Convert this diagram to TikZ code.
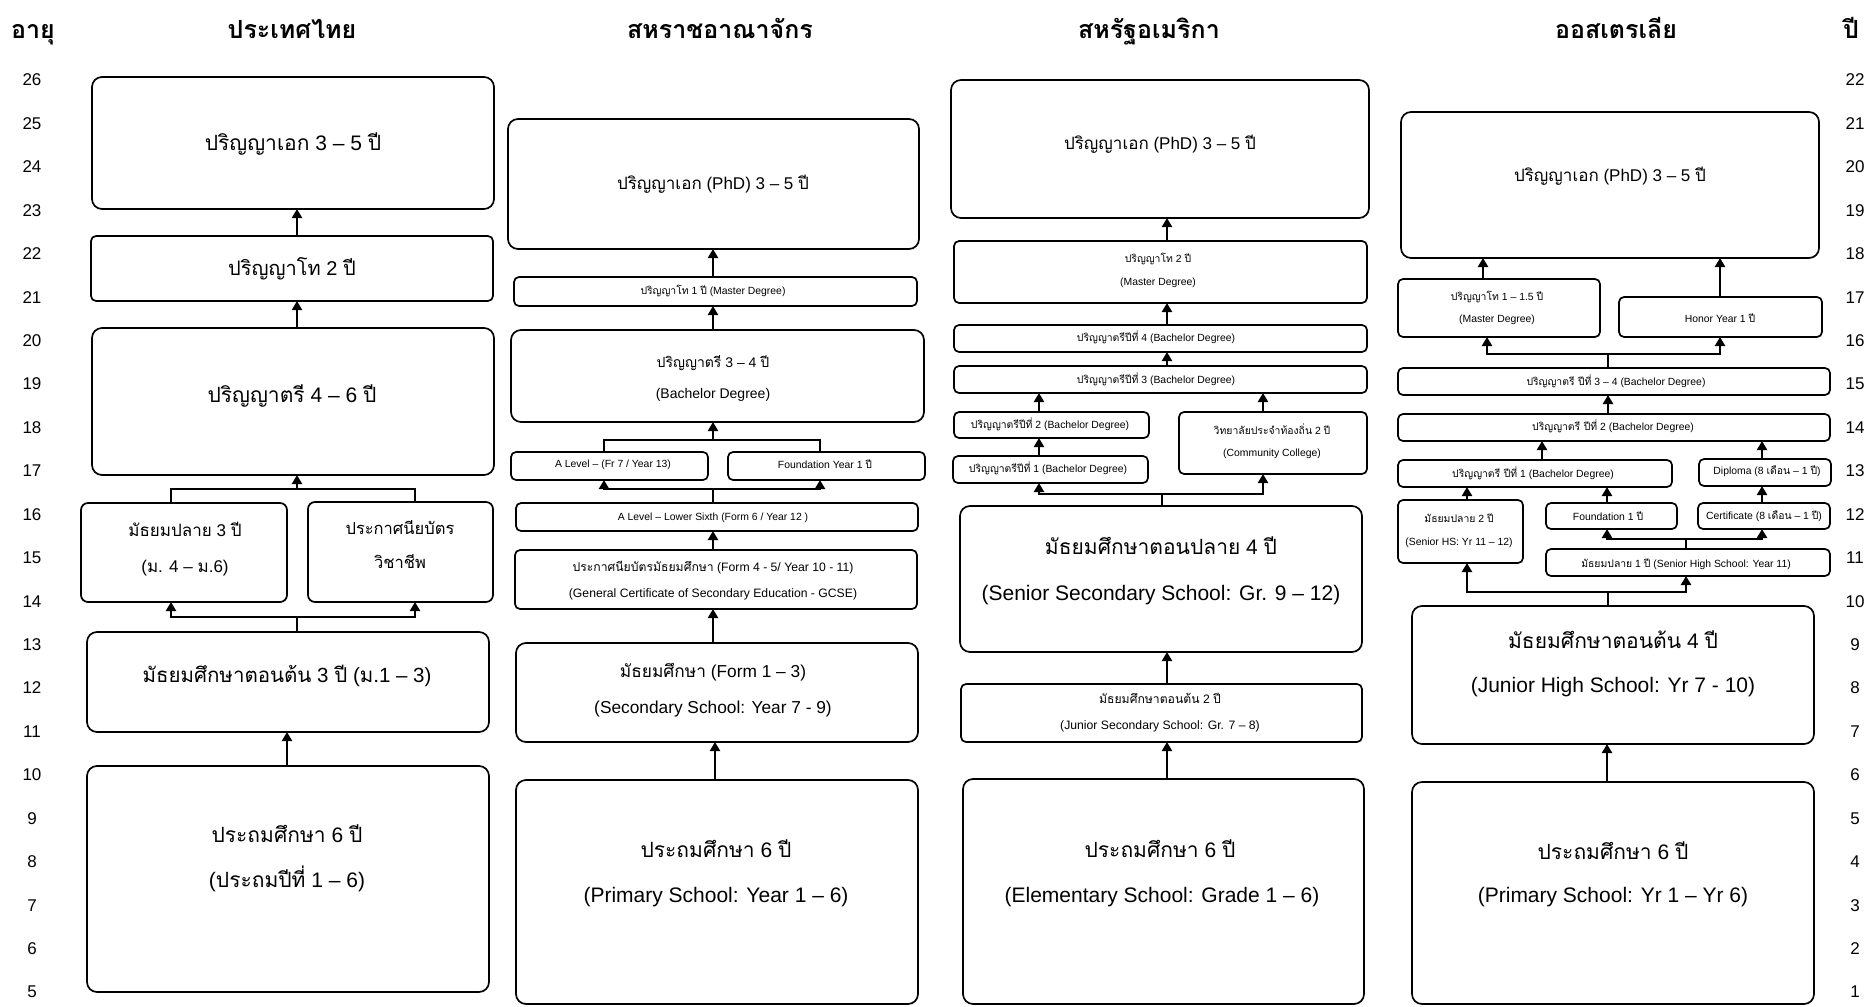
\documentclass[tikz,border=0pt]{standalone}
\usepackage{fontspec}
\setmainfont{Liberation Sans}
\newfontfamily\thaifont[Script=Thai]{Loma}
\usetikzlibrary{arrows.meta,fit}
\newcommand\thx[1]{{\thaifont #1}}
\tikzset{
 box/.style={draw, line width=1.7pt, rounded corners=5pt, inner sep=0pt, outer sep=0pt},
 big/.style={rounded corners=10pt},
 txt/.style={anchor=base, inner sep=0pt, outer sep=0pt},
 ln/.style={line width=2pt},
 arr/.style={line width=2.2pt, -{Triangle[width=10pt,length=9pt]}},
 hd/.style={anchor=base, inner sep=0pt, font=\fontsize{25pt}{25pt}\selectfont\bfseries},
 age/.style={inner sep=0pt, font=\fontsize{17pt}{17pt}\selectfont}
}
\newcommand\bx[6][]{\node[box,#1,fit={(#3,#4) (#5,#6)}] (#2) {};}
\newcommand\tx[5]{\node[txt,font=\fontsize{#1pt}{#1pt}\selectfont] (#2) at (#3,{#4+0.358*#1}) {#5};}
\begin{document}
\begin{tikzpicture}[x=1pt,y=-1pt]
\useasboundingbox (0,0) rectangle (1867,1006);
% headers
\node[hd] (hAge) at (33,39) {\thx{อายุ}};
\node[hd] (hTH) at (292,39) {\thx{ประเทศไทย}};
\node[hd] (hUK) at (720,39) {\thx{สหราชอาณาจักร}};
\node[hd] (hUS) at (1149,39) {\thx{สหรัฐอเมริกา}};
\node[hd] (hAU) at (1616,39) {\thx{ออสเตรเลีย}};
\node[hd] (hYr) at (1851,39) {\thx{ปี}};
% age scales
\foreach \a in {5,...,26} \node[age] (L\a) at (32,{80+(26-\a)*43.43}) {\a};
\foreach \a in {1,...,22} \node[age] (R\a) at (1855,{80+(22-\a)*43.43}) {\a};

% ===== Thailand =====
\bx[big]{thPhD}{92}{77}{494}{209}
\bx{thMa}{91}{236}{493}{301}
\bx[big]{thBa}{92}{328}{494}{475}
\bx[rounded corners=7pt]{thUS}{81}{503}{287}{602}
\bx[rounded corners=7pt]{thVo}{308}{502}{493}{602}
\bx[big]{thLS}{87}{632}{489}{732}
\bx[big]{thPr}{87}{766}{489}{992}
\tx{21}{thPhDt}{293}{143}{\thx{ปริญญาเอก} 3 – 5 \thx{ปี}}
\tx{20}{thMat}{292}{268}{\thx{ปริญญาโท} 2 \thx{ปี}}
\tx{21}{thBat}{292}{395}{\thx{ปริญญาตรี} 4 – 6 \thx{ปี}}
\tx{17}{thUSa}{185}{530}{\thx{มัธยมปลาย} 3 \thx{ปี}}
\tx{17}{thUSb}{185}{566}{(\thx{ม.} 4 – \thx{ม.}6)}
\tx{16.5}{thVoa}{400}{529}{\thx{ประกาศนียบัตร}}
\tx{16.5}{thVob}{400}{563}{\thx{วิชาชีพ}}
\tx{20.5}{thLSt}{287}{675}{\thx{มัธยมศึกษาตอนต้น} 3 \thx{ปี} (\thx{ม.}1 – 3)}
\tx{21}{thPra}{287}{835}{\thx{ประถมศึกษา} 6 \thx{ปี}}
\tx{21}{thPrb}{287}{880}{(\thx{ประถมปีที่} 1 – 6)}
\coordinate (thJ1a) at (171,489); \coordinate (thJ1b) at (415,489); \coordinate (thJ1m) at (297,489);
\coordinate (thJ2a) at (171,617); \coordinate (thJ2b) at (415,617); \coordinate (thJ2m) at (297,617);
\draw[arr] (thMa.north -| 297,0) -- (thPhD.south -| 297,0);
\draw[arr] (thBa.north -| 297,0) -- (thMa.south -| 297,0);
\draw[ln] (thUS.north -| thJ1a) -- (thJ1a) -- (thJ1b) -- (thVo.north -| thJ1b);
\draw[arr] (thJ1m) -- (thBa.south -| thJ1m);
\draw[ln] (thLS.north -| thJ2m) -- (thJ2m);
\draw[arr] (thJ2m) -- (thJ2a) -- (thUS.south -| thJ2a);
\draw[arr] (thJ2m) -- (thJ2b) -- (thVo.south -| thJ2b);
\draw[arr] (thPr.north -| 287,0) -- (thLS.south -| 287,0);

% ===== UK =====
\bx[big]{ukPhD}{508}{119}{919}{249}
\bx{ukMa}{514}{277}{917}{306}
\bx[big]{ukBa}{511}{330}{924}{422}
\bx{ukAL}{511}{452}{708}{480}
\bx{ukFY}{728}{452}{925}{480}
\bx{ukLS}{516}{503}{918}{531}
\bx{ukGC}{515}{550}{917}{609}
\bx[big]{ukF13}{516}{643}{918}{742}
\bx[big]{ukPr}{516}{780}{918}{1004}
\tx{17}{ukPhDt}{713}{183}{\thx{ปริญญาเอก} (PhD) 3 – 5 \thx{ปี}}
\tx{10.4}{ukMat}{713}{291}{\thx{ปริญญาโท} 1 \thx{ปี} (Master Degree)}
\tx{14}{ukBaa}{713}{362}{\thx{ปริญญาตรี} 3 – 4 \thx{ปี}}
\tx{14}{ukBab}{713}{393}{(Bachelor Degree)}
\tx{10.4}{ukALt}{613}{464}{A Level – (Fr 7 / Year 13)}
\tx{10.4}{ukFYt}{825}{465}{Foundation Year 1 \thx{ปี}}
\tx{10.4}{ukLSt}{713}{517}{A Level – Lower Sixth (Form 6 / Year 12 )}
\tx{12.2}{ukGCa}{713}{567}{\thx{ประกาศนียบัตรมัธยมศึกษา} (Form 4 - 5/ Year 10 - 11)}
\tx{12.2}{ukGCb}{713}{593}{(General Certificate of Secondary Education - GCSE)}
\tx{17.3}{ukF13a}{713}{671}{\thx{มัธยมศึกษา} (Form 1 – 3)}
\tx{17.3}{ukF13b}{713}{707}{(Secondary School: Year 7 - 9)}
\tx{21}{ukPra}{716}{850}{\thx{ประถมศึกษา} 6 \thx{ปี}}
\tx{21}{ukPrb}{716}{895}{(Primary School: Year 1 – 6)}
\coordinate (ukJ1a) at (604,440); \coordinate (ukJ1b) at (820,440); \coordinate (ukJ1m) at (713,440);
\coordinate (ukJ2a) at (604,489); \coordinate (ukJ2b) at (820,489); \coordinate (ukJ2m) at (713,489);
\draw[arr] (ukMa.north -| 713,0) -- (ukPhD.south -| 713,0);
\draw[arr] (ukBa.north -| 713,0) -- (ukMa.south -| 713,0);
\draw[ln] (ukAL.north -| ukJ1a) -- (ukJ1a) -- (ukJ1b) -- (ukFY.north -| ukJ1b);
\draw[arr] (ukJ1m) -- (ukBa.south -| ukJ1m);
\draw[ln] (ukLS.north -| ukJ2m) -- (ukJ2m);
\draw[arr] (ukJ2m) -- (ukJ2a) -- (ukAL.south -| ukJ2a);
\draw[arr] (ukJ2m) -- (ukJ2b) -- (ukFY.south -| ukJ2b);
\draw[arr] (ukGC.north -| 713,0) -- (ukLS.south -| 713,0);
\draw[arr] (ukF13.north -| 713,0) -- (ukGC.south -| 713,0);
\draw[arr] (ukPr.north -| 715,0) -- (ukF13.south -| 715,0);

% ===== USA =====
\bx[big]{usPhD}{951}{80}{1369}{218}
\bx{usMa}{954}{241}{1367}{303}
\bx{usB4}{954}{325}{1367}{352}
\bx{usB3}{954}{366}{1367}{393}
\bx{usB2}{954}{412}{1149}{438}
\bx{usB1}{953}{456}{1148}{483}
\bx{usCC}{1179}{412}{1367}{474}
\bx[big]{usSS}{960}{506}{1362}{652}
\bx{usJS}{961}{684}{1362}{742}
\bx[big]{usPr}{963}{779}{1364}{1004}
\tx{17}{usPhDt}{1160}{143}{\thx{ปริญญาเอก} (PhD) 3 – 5 \thx{ปี}}
\tx{10.4}{usMaa}{1158}{259}{\thx{ปริญญาโท} 2 \thx{ปี}}
\tx{10.4}{usMab}{1158}{282}{(Master Degree)}
\tx{10.4}{usB4t}{1156}{338}{\thx{ปริญญาตรีปีที่} 4 (Bachelor Degree)}
\tx{10.4}{usB3t}{1156}{380}{\thx{ปริญญาตรีปีที่} 3 (Bachelor Degree)}
\tx{10.4}{usB2t}{1050}{425}{\thx{ปริญญาตรีปีที่} 2 (Bachelor Degree)}
\tx{10.4}{usB1t}{1048}{469}{\thx{ปริญญาตรีปีที่} 1 (Bachelor Degree)}
\tx{10.4}{usCCa}{1272}{431}{\thx{วิทยาลัยประจำท้องถิ่น} 2 \thx{ปี}}
\tx{10.4}{usCCb}{1272}{453}{(Community College)}
\tx{21}{usSSa}{1161}{547}{\thx{มัธยมศึกษาตอนปลาย} 4 \thx{ปี}}
\tx{21}{usSSb}{1161}{593}{(Senior Secondary School: Gr. 9 – 12)}
\tx{12.2}{usJSa}{1160}{699}{\thx{มัธยมศึกษาตอนต้น} 2 \thx{ปี}}
\tx{12.2}{usJSb}{1160}{725}{(Junior Secondary School: Gr. 7 – 8)}
\tx{21}{usPra}{1160}{850}{\thx{ประถมศึกษา} 6 \thx{ปี}}
\tx{21}{usPrb}{1162}{895}{(Elementary School: Grade 1 – 6)}
\coordinate (usJa) at (1039,494); \coordinate (usJb) at (1263,494); \coordinate (usJm) at (1162,494);
\draw[arr] (usMa.north -| 1167,0) -- (usPhD.south -| 1167,0);
\draw[arr] (usB4.north -| 1167,0) -- (usMa.south -| 1167,0);
\draw[arr] (usB3.north -| 1167,0) -- (usB4.south -| 1167,0);
\draw[arr] (usB2.north -| 1039,0) -- (usB3.south -| 1039,0);
\draw[arr] (usCC.north -| 1263,0) -- (usB3.south -| 1263,0);
\draw[arr] (usB1.north -| 1039,0) -- (usB2.south -| 1039,0);
\draw[ln] (usSS.north -| usJm) -- (usJm);
\draw[arr] (usJm) -- (usJa) -- (usB1.south -| usJa);
\draw[arr] (usJm) -- (usJb) -- (usCC.south -| usJb);
\draw[arr] (usJS.north -| 1167,0) -- (usSS.south -| 1167,0);
\draw[arr] (usPr.north -| 1167,0) -- (usJS.south -| 1167,0);

% ===== Australia =====
\bx[big]{auPhD}{1401}{112}{1819}{258}
\bx{auMa}{1398}{279}{1600}{337}
\bx{auHo}{1619}{297}{1822}{337}
\bx{auB34}{1398}{368}{1830}{395}
\bx{auB2}{1398}{414}{1830}{441}
\bx{auB1}{1398}{460}{1672}{487}
\bx{auDi}{1699}{459}{1831}{486}
\bx{auSH}{1398}{500}{1523}{563}
\bx{auFo}{1546}{503}{1677}{529}
\bx{auCe}{1698}{503}{1830}{529}
\bx{auY11}{1546}{549}{1830}{576}
\bx[big]{auJH}{1412}{606}{1814}{744}
\bx[big]{auPr}{1412}{782}{1814}{1004}
\tx{17}{auPhDt}{1610}{175}{\thx{ปริญญาเอก} (PhD) 3 – 5 \thx{ปี}}
\tx{10.4}{auMaa}{1497}{297}{\thx{ปริญญาโท} 1 – 1.5 \thx{ปี}}
\tx{10.4}{auMab}{1497}{319}{(Master Degree)}
\tx{10.4}{auHot}{1720}{319}{Honor Year 1 \thx{ปี}}
\tx{10.4}{auB34t}{1616}{382}{\thx{ปริญญาตรี ปีที่} 3 – 4 (Bachelor Degree)}
\tx{10.4}{auB2t}{1613}{427}{\thx{ปริญญาตรี ปีที่} 2 (Bachelor Degree)}
\tx{10.4}{auB1t}{1533}{474}{\thx{ปริญญาตรี ปีที่} 1 (Bachelor Degree)}
\tx{10.4}{auDit}{1767}{471}{Diploma (8 \thx{เดือน} – 1 \thx{ปี})}
\tx{10.4}{auSHa}{1459}{519}{\thx{มัธยมปลาย} 2 \thx{ปี}}
\tx{10.4}{auSHb}{1459}{542}{(Senior HS: Yr 11 – 12)}
\tx{10.4}{auFot}{1608}{517}{Foundation 1 \thx{ปี}}
\tx{10.4}{auCet}{1764}{516}{Certificate (8 \thx{เดือน} – 1 \thx{ปี})}
\tx{10.4}{auY11t}{1686}{564}{\thx{มัธยมปลาย} 1 \thx{ปี} (Senior High School: Year 11)}
\tx{21}{auJHa}{1613}{641}{\thx{มัธยมศึกษาตอนต้น} 4 \thx{ปี}}
\tx{21}{auJHb}{1613}{685}{(Junior High School: Yr 7 - 10)}
\tx{21}{auPra}{1613}{852}{\thx{ประถมศึกษา} 6 \thx{ปี}}
\tx{21}{auPrb}{1613}{895}{(Primary School: Yr 1 – Yr 6)}
\coordinate (auJ1a) at (1487,354); \coordinate (auJ1b) at (1720,354); \coordinate (auJ1m) at (1608,354);
\coordinate (auJ2a) at (1607,539); \coordinate (auJ2b) at (1762,539); \coordinate (auJ2m) at (1686,539);
\coordinate (auJ3a) at (1467,592); \coordinate (auJ3b) at (1686,592); \coordinate (auJ3m) at (1608,592);
\draw[arr] (auMa.north -| 1483,0) -- (auPhD.south -| 1483,0);
\draw[arr] (auHo.north -| 1720,0) -- (auPhD.south -| 1720,0);
\draw[ln] (auB34.north -| auJ1m) -- (auJ1m);
\draw[arr] (auJ1m) -- (auJ1a) -- (auMa.south -| auJ1a);
\draw[arr] (auJ1m) -- (auJ1b) -- (auHo.south -| auJ1b);
\draw[arr] (auB2.north -| 1608,0) -- (auB34.south -| 1608,0);
\draw[arr] (auB1.north -| 1542,0) -- (auB2.south -| 1542,0);
\draw[arr] (auDi.north -| 1762,0) -- (auB2.south -| 1762,0);
\draw[arr] (auSH.north -| 1467,0) -- (auB1.south -| 1467,0);
\draw[arr] (auFo.north -| 1607,0) -- (auB1.south -| 1607,0);
\draw[arr] (auCe.north -| 1762,0) -- (auDi.south -| 1762,0);
\draw[ln] (auY11.north -| auJ2m) -- (auJ2m);
\draw[arr] (auJ2m) -- (auJ2a) -- (auFo.south -| auJ2a);
\draw[arr] (auJ2m) -- (auJ2b) -- (auCe.south -| auJ2b);
\draw[ln] (auJH.north -| auJ3m) -- (auJ3m);
\draw[arr] (auJ3m) -- (auJ3a) -- (auSH.south -| auJ3a);
\draw[arr] (auJ3m) -- (auJ3b) -- (auY11.south -| auJ3b);
\draw[arr] (auPr.north -| 1607,0) -- (auJH.south -| 1607,0);
\end{tikzpicture}
\end{document}
